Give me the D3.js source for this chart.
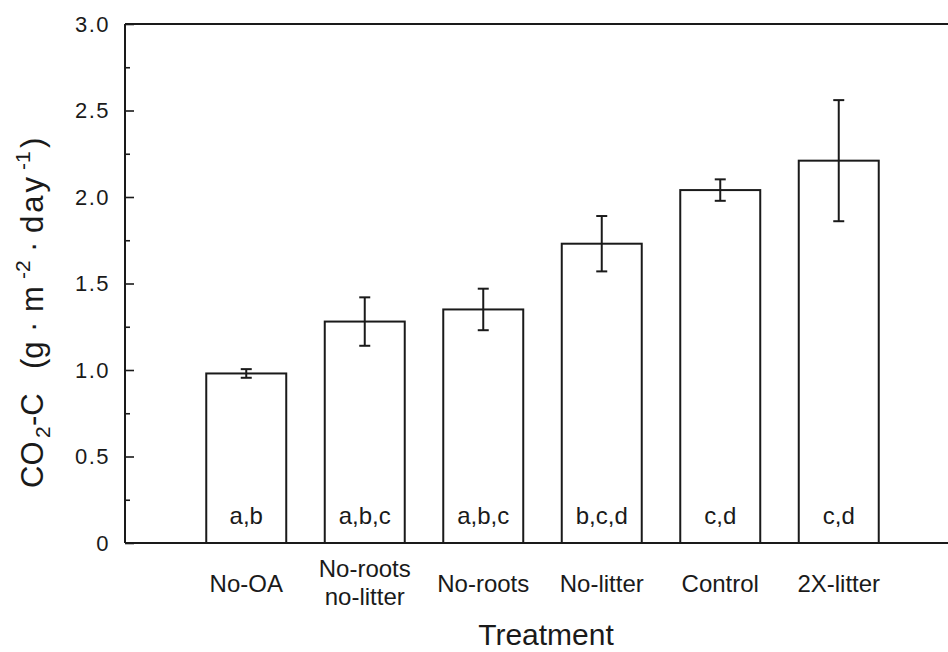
<!DOCTYPE html>
<html>
<head>
<meta charset="utf-8">
<script src="https://cdn.jsdelivr.net/npm/d3@7"></script>
<style>
  body { margin: 0; background: #fff; }
  svg { font-family: "Liberation Sans", Arial, Helvetica, sans-serif; }
  .tick text { fill: #1a1a1a; }
</style>
</head>
<body>
<svg id="chart" width="948" height="652"></svg>
<script>
// treatments, means, standard errors and significance letters
var treatments = ["No-OA", "No-roots\nno-litter", "No-roots", "No-litter", "Control", "2X-litter"];
var means = [0.98, 1.28, 1.35, 1.73, 2.04, 2.21];
var errs = [0.025, 0.14, 0.12, 0.16, 0.062, 0.35];
var letters = ["a,b", "a,b,c", "a,b,c", "b,c,d", "c,d", "c,d"];
var majorTicks = [0, 0.5, 1.0, 1.5, 2.0, 2.5, 3.0];
var minorTicks = [0.25, 0.75, 1.25, 1.75, 2.25, 2.75];

var data = treatments.map(function (t, i) {
    return { name: t, mean: means[i], err: errs[i], letter: letters[i] };
});

var ink = "#1a1a1a";
var svg = d3.select("#chart");

var x = d3.scaleBand().domain(treatments).range([187, 898]).paddingInner(0.325).paddingOuter(0.1625);
var y = d3.scaleLinear().domain([0, 3]).range([543, 24]);

var left = 125, right = 948;

// y axis: ticks point inward
var yAxis = d3.axisLeft(y)
    .tickValues(majorTicks)
    .tickSize(-9)
    .tickPadding(15)
    .tickFormat(function (d) { return d === 0 ? "0" : d3.format(".1f")(d); });

var yMinor = d3.axisLeft(y)
    .tickValues(minorTicks)
    .tickSize(-5)
    .tickFormat("");

var gy = svg.append("g").attr("transform", "translate(" + left + ",0)").call(yAxis);
gy.select(".domain").remove();
gy.selectAll("line").attr("stroke", ink).attr("stroke-width", 1.6);
gy.selectAll("text")
    .attr("font-size", 22)
    .style("letter-spacing", "1.5px");

var gm = svg.append("g").attr("transform", "translate(" + left + ",0)").call(yMinor);
gm.select(".domain").remove();
gm.selectAll("line").attr("stroke", ink).attr("stroke-width", 1.6);

// frame lines: left, top
svg.append("line").attr("x1", left).attr("x2", left).attr("y1", y(3)).attr("y2", y(0))
    .attr("stroke", ink).attr("stroke-width", 2);
svg.append("line").attr("x1", left).attr("x2", right).attr("y1", y(3)).attr("y2", y(3))
    .attr("stroke", ink).attr("stroke-width", 2);

// bars
svg.selectAll(".bar")
    .data(data)
    .enter()
    .append("rect")
    .attr("class", "bar")
    .attr("x", function (d) { return x(d.name); })
    .attr("width", x.bandwidth())
    .attr("y", function (d) { return y(d.mean); })
    .attr("height", function (d) { return y(0) - y(d.mean); })
    .attr("fill", "#fff")
    .attr("stroke", ink)
    .attr("stroke-width", 2);

// baseline
svg.append("line").attr("x1", left).attr("x2", right).attr("y1", y(0)).attr("y2", y(0))
    .attr("stroke", ink).attr("stroke-width", 2);

// error bars
var eb = svg.selectAll(".err")
    .data(data)
    .enter()
    .append("g")
    .attr("class", "err")
    .attr("stroke", ink)
    .attr("stroke-width", 2);

eb.append("line")
    .attr("x1", function (d) { return x(d.name) + x.bandwidth() / 2; })
    .attr("x2", function (d) { return x(d.name) + x.bandwidth() / 2; })
    .attr("y1", function (d) { return y(d.mean + d.err); })
    .attr("y2", function (d) { return y(d.mean - d.err); });

[1, -1].forEach(function (s) {
    eb.append("line")
        .attr("x1", function (d) { return x(d.name) + x.bandwidth() / 2 - 5.5; })
        .attr("x2", function (d) { return x(d.name) + x.bandwidth() / 2 + 5.5; })
        .attr("y1", function (d) { return y(d.mean + s * d.err); })
        .attr("y2", function (d) { return y(d.mean + s * d.err); });
});

// significance letters inside bars
svg.selectAll(".letter")
    .data(data)
    .enter()
    .append("text")
    .attr("class", "letter")
    .attr("x", function (d) { return x(d.name) + x.bandwidth() / 2; })
    .attr("y", 524)
    .attr("text-anchor", "middle")
    .attr("font-size", 24)
    .attr("fill", ink)
    .text(function (d) { return d.letter; });

// x axis labels
var xAxis = d3.axisBottom(x).tickSize(0).tickPadding(0);
var gx = svg.append("g").attr("transform", "translate(0," + y(0) + ")").call(xAxis);
gx.select(".domain").remove();
gx.selectAll("text").each(function (d) {
    var lines = d.split("\n");
    var t = d3.select(this).text(null).attr("font-size", 24).attr("y", 0).attr("dy", null);
    var base = lines.length > 1 ? 34 : 49;
    lines.forEach(function (l, i) {
        t.append("tspan").attr("x", 0).attr("y", base + i * 28).text(l);
    });
});

// axis titles
svg.append("text")
    .attr("x", 546)
    .attr("y", 645)
    .attr("text-anchor", "middle")
    .attr("font-size", 30)
    .attr("fill", ink)
    .text("Treatment");

var yt = svg.append("text")
    .attr("transform", "translate(43,488) rotate(-90)")
    .attr("font-size", 31)
    .attr("fill", ink);
yt.append("tspan").attr("x", 0).text("CO");
yt.append("tspan").attr("x", 50).attr("font-size", 21).attr("dy", 7).text("2");
yt.append("tspan").attr("x", 62).attr("dy", -7).text("-C");
yt.append("tspan").attr("x", 119).text("(g");
yt.append("tspan").attr("x", 156).text("·");
yt.append("tspan").attr("x", 176).text("m");
yt.append("tspan").attr("x", 209).attr("font-size", 21).attr("dy", -13).text("-2");
yt.append("tspan").attr("x", 236).attr("dy", 13).text("·");
yt.append("tspan").attr("x", 255).style("letter-spacing", "3px").text("day");
yt.append("tspan").attr("x", 318).attr("font-size", 21).attr("dy", -13).text("-1");
yt.append("tspan").attr("x", 340).attr("dy", 13).text(")");
</script>
</body>
</html>
